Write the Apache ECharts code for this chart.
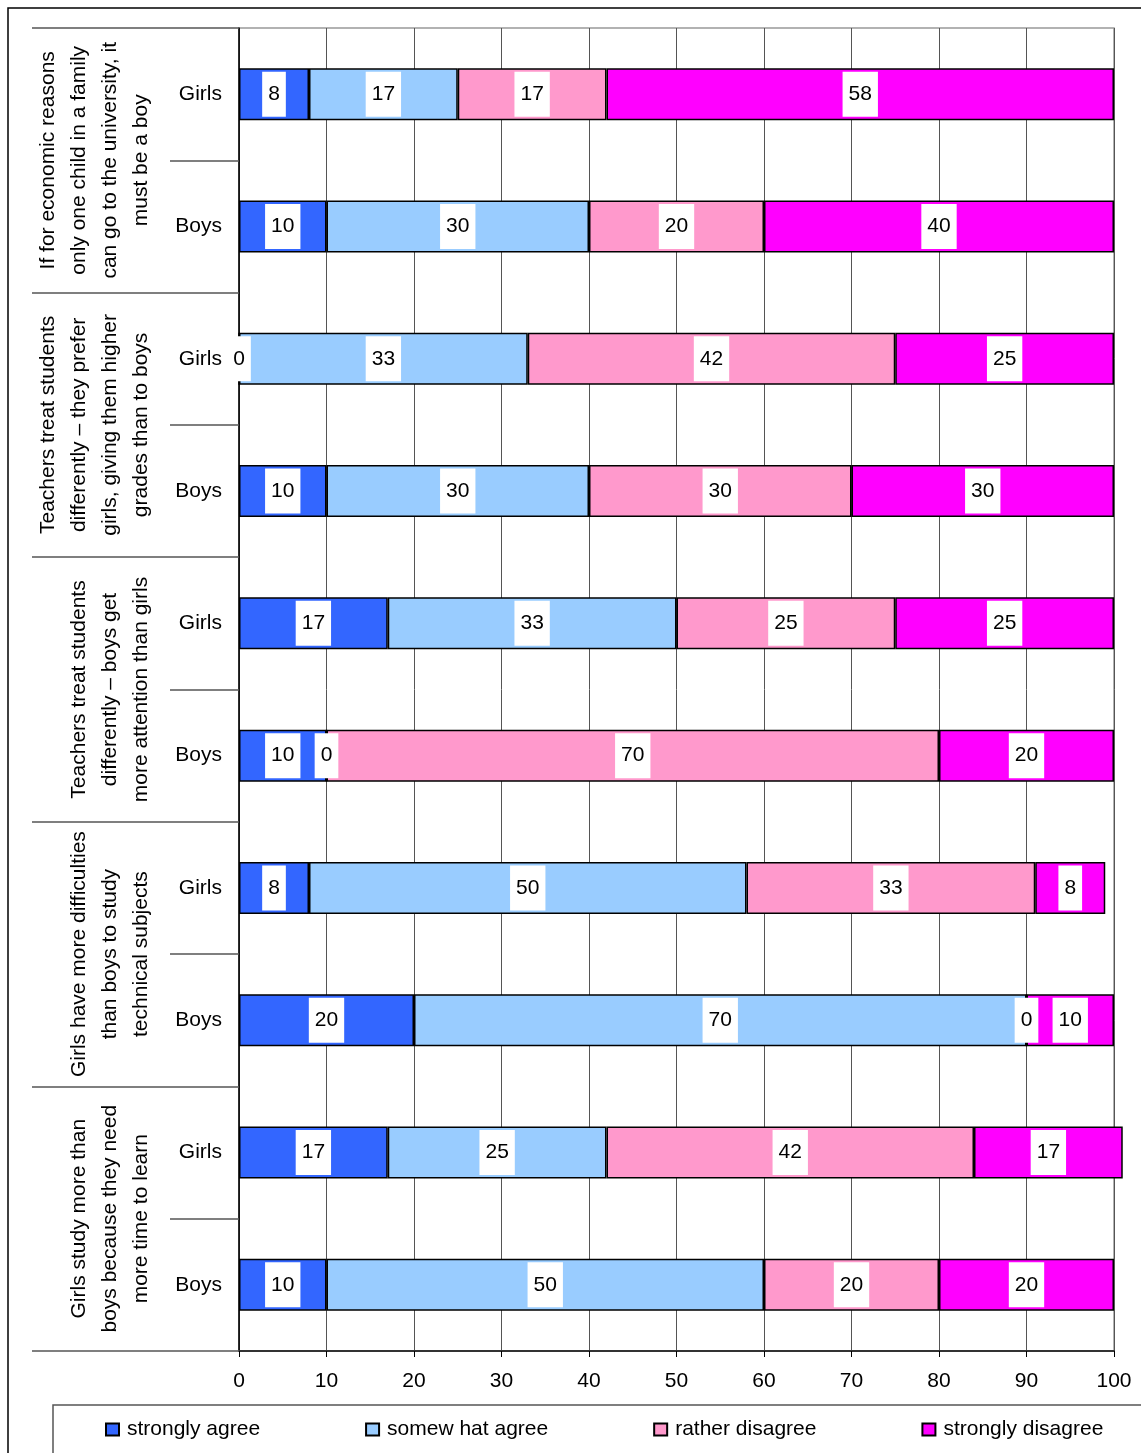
<!DOCTYPE html>
<html>
<head>
	<meta charset="UTF-8">
	<title>Gender attitudes</title>
	<style type="text/css">
		html, body { margin: 0; padding: 0; background: #fff; }
		#chart { width: 1141px; height: 1453px; }
	</style>
</head>
<body>
	<div id="chart"></div>
	<script type="text/javascript" src="https://cdn.jsdelivr.net/npm/echarts@6/dist/echarts.min.js"></script>
	<script type="text/javascript">
		// questions (outer axis), top to bottom
		var questions = [
			'If for economic reasons\nonly one child in a family\ncan go to the university, it\nmust be a boy',
			'Teachers treat students\ndifferently \u2013 they prefer\ngirls, giving them higher\ngrades than to boys',
			'Teachers treat students\ndifferently \u2013 boys get\nmore attention than girls',
			'Girls have more difficulties\nthan boys to study\ntechnical subjects',
			'Girls study more than\nboys because they need\nmore time to learn'
		];
		// rows (inner axis), top to bottom
		var rows = ['Girls', 'Boys', 'Girls', 'Boys', 'Girls', 'Boys', 'Girls', 'Boys', 'Girls', 'Boys'];

		var seriesNames = ['strongly agree', 'somew hat agree', 'rather disagree', 'strongly disagree'];
		var seriesColors = ['#3366FF', '#99CCFF', '#FF99CC', '#FF00FF'];

		var stronglyAgree    = [8, 10, 0, 10, 17, 10, 8, 20, 17, 10];
		var somewhatAgree    = [17, 30, 33, 30, 33, 0, 50, 70, 25, 50];
		var ratherDisagree   = [17, 20, 42, 30, 25, 70, 33, 0, 42, 20];
		var stronglyDisagree = [58, 40, 25, 30, 25, 20, 8, 10, 17, 20];

		var xTicks = [0, 10, 20, 30, 40, 50, 60, 70, 80, 90, 100];

		var font = "'Liberation Sans', Arial, sans-serif";
		var chart = echarts.init(document.getElementById('chart'));

		var values = [stronglyAgree, somewhatAgree, ratherDisagree, stronglyDisagree];
		var series = values.map(function (arr, i) {
			return {
				name: seriesNames[i],
				type: 'bar',
				stack: 'total',
				yAxisIndex: 0,
				barWidth: 52,
				clip: false,
				data: arr,
				itemStyle: {
					color: seriesColors[i],
					borderColor: '#000',
					borderWidth: 1.5
				},
				label: {
					show: true,
					position: 'inside',
					color: '#000',
					fontFamily: font,
					fontSize: 21,
					backgroundColor: '#fff',
					padding: [12, 6, 12, 6]
				}
			};
		});

		var option = {
			animation: false,
			textStyle: { fontFamily: font },
			graphic: [{
				type: 'rect',
				shape: { x: 8, y: 8, width: 1300, height: 1600 },
				style: { fill: 'none', stroke: '#000', lineWidth: 1.5 },
				z: -10
			}],
			grid: {
				left: 239,
				right: 27,
				top: 28,
				bottom: 102,
				show: true,
				borderColor: '#999',
				borderWidth: 1.5
			},
			legend: {
				data: seriesNames,
				icon: 'rect',
				left: 53,
				top: 1405,
				width: 1150,
				padding: [14, 60, 40, 52],
				itemGap: 105,
				itemWidth: 13,
				itemHeight: 12,
				borderColor: '#555',
				borderWidth: 1.5,
				textStyle: { fontFamily: font, fontSize: 21, color: '#000', padding: [0, 0, 0, 3] }
			},
			xAxis: {
				type: 'value',
				min: 0,
				max: 100,
				interval: 10,
				axisLine: { show: true, lineStyle: { color: '#333', width: 2 } },
				axisTick: { show: true, length: 6, lineStyle: { color: '#000' } },
				axisLabel: {
					color: '#000',
					fontSize: 21,
					fontFamily: font,
					margin: 20,
					formatter: function (v) { return xTicks.indexOf(v) >= 0 ? String(v) : ''; }
				},
				splitLine: { show: true, lineStyle: { color: '#555', width: 1 } }
			},
			yAxis: [{
				type: 'category',
				data: rows,
				inverse: true,
				position: 'left',
				axisLine: { show: true, lineStyle: { color: '#000', width: 1.5 } },
				axisTick: { show: true, interval: 0, length: 69, lineStyle: { color: '#555', width: 1.5 } },
				axisLabel: { interval: 0, color: '#000', fontSize: 21, fontFamily: font, margin: 17 }
			}, {
				type: 'category',
				data: questions,
				inverse: true,
				position: 'left',
				axisLine: { show: false },
				axisTick: { show: true, interval: 0, length: 207, lineStyle: { color: '#555', width: 1.5 } },
				axisLabel: {
					interval: 0,
					color: '#000',
					fontSize: 21,
					fontFamily: font,
					rotate: 90,
					margin: 82,
					lineHeight: 31,
					align: 'center'
				}
			}],
			series: series
		};

		chart.setOption(option);
	</script>
</body>
</html>
